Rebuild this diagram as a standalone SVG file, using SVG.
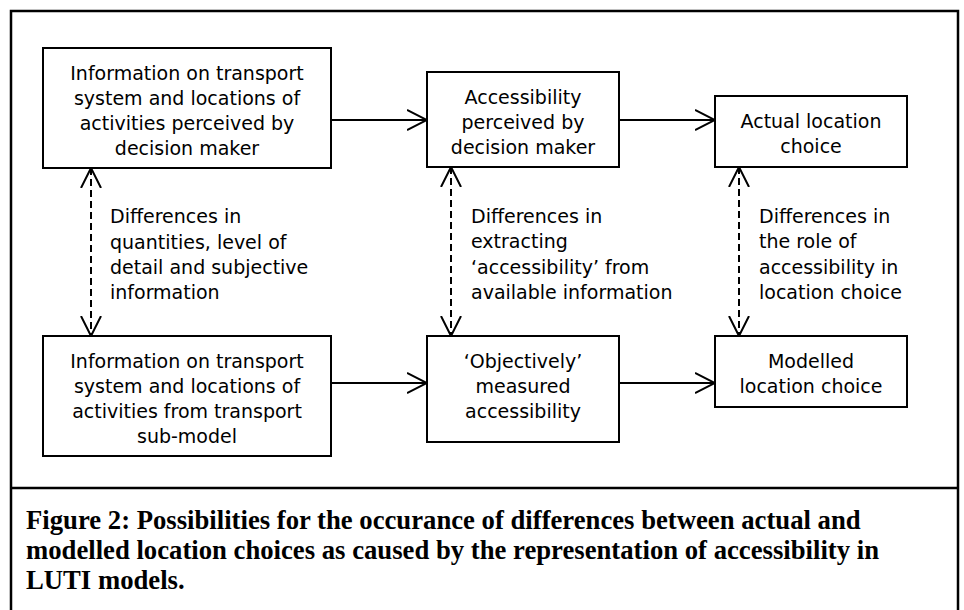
<svg xmlns="http://www.w3.org/2000/svg" width="964" height="610" viewBox="0 0 964 610">
<style>
.box{fill:#fff;stroke:#000;stroke-width:2}
.t{font-family:"DejaVu Sans",Verdana,sans-serif;font-size:19px;fill:#000}
.c{text-anchor:middle}
.conn{stroke:#000;stroke-width:2;fill:none}
.dash{stroke-dasharray:7 4}
.cap{font-family:"Liberation Serif","Times New Roman",serif;font-size:26.7px;font-weight:bold;fill:#000}
</style>
<defs>
<marker id="ah" viewBox="0 0 20 22" refX="20" refY="11" markerWidth="20" markerHeight="22" markerUnits="userSpaceOnUse" orient="auto-start-reverse">
<path d="M0,1 L20,11 L0,21" fill="none" stroke="#000" stroke-width="2" stroke-dasharray="none"/>
</marker>
</defs>
<rect x="0" y="0" width="964" height="610" fill="#fff"/>
<g id="frame">
<rect x="11" y="11" width="947" height="610" fill="none" stroke="#000" stroke-width="2.5"/>
<line x1="11" y1="488" x2="958" y2="488" stroke="#000" stroke-width="2.5"/>
</g>
<g id="connectors">
<line class="conn" x1="331" y1="120" x2="427" y2="120" marker-end="url(#ah)"/>
<line class="conn" x1="619" y1="120" x2="715" y2="120" marker-end="url(#ah)"/>
<line class="conn" x1="331" y1="383" x2="427" y2="383" marker-end="url(#ah)"/>
<line class="conn" x1="619" y1="383" x2="715" y2="383" marker-end="url(#ah)"/>
<line class="conn dash" x1="91" y1="168" x2="91" y2="336" marker-start="url(#ah)" marker-end="url(#ah)"/>
<line class="conn dash" x1="451" y1="167" x2="451" y2="336" marker-start="url(#ah)" marker-end="url(#ah)"/>
<line class="conn dash" x1="739" y1="167" x2="739" y2="336" marker-start="url(#ah)" marker-end="url(#ah)"/>
<text class="t" x="110" y="223">Differences in</text>
<text class="t" x="110" y="249">quantities, level of</text>
<text class="t" x="110" y="274">detail and subjective</text>
<text class="t" x="110" y="299">information</text>
<text class="t" x="471" y="223">Differences in</text>
<text class="t" x="471" y="248">extracting</text>
<text class="t" x="471" y="274">‘accessibility’ from</text>
<text class="t" x="471" y="299">available information</text>
<text class="t" x="759" y="223">Differences in</text>
<text class="t" x="759" y="248">the role of</text>
<text class="t" x="759" y="274">accessibility in</text>
<text class="t" x="759" y="299">location choice</text>
</g>
<g id="nodeA">
<rect class="box" x="43" y="48" width="288" height="120"/>
<text class="t c" x="187" y="80">Information on transport</text>
<text class="t c" x="187" y="105">system and locations of</text>
<text class="t c" x="187" y="130">activities perceived by</text>
<text class="t c" x="187" y="155">decision maker</text>
</g>
<g id="nodeB">
<rect class="box" x="427" y="72" width="192" height="95"/>
<text class="t c" x="523" y="104">Accessibility</text>
<text class="t c" x="523" y="129">perceived by</text>
<text class="t c" x="523" y="154">decision maker</text>
</g>
<g id="nodeC">
<rect class="box" x="715" y="96" width="192" height="71"/>
<text class="t c" x="811" y="128">Actual location</text>
<text class="t c" x="811" y="153">choice</text>
</g>
<g id="nodeD">
<rect class="box" x="43" y="336" width="288" height="120"/>
<text class="t c" x="187" y="368">Information on transport</text>
<text class="t c" x="187" y="393">system and locations of</text>
<text class="t c" x="187" y="418">activities from transport</text>
<text class="t c" x="187" y="443">sub-model</text>
</g>
<g id="nodeE">
<rect class="box" x="427" y="336" width="192" height="106"/>
<text class="t c" x="523" y="368">‘Objectively’</text>
<text class="t c" x="523" y="393">measured</text>
<text class="t c" x="523" y="418">accessibility</text>
</g>
<g id="nodeF">
<rect class="box" x="715" y="336" width="192" height="71"/>
<text class="t c" x="811" y="368">Modelled</text>
<text class="t c" x="811" y="393">location choice</text>
</g>
<g id="caption">
<text class="cap" x="26" y="529">Figure 2: Possibilities for the occurance of differences between actual and</text>
<text class="cap" x="26" y="559">modelled location choices as caused by the representation of accessibility in</text>
<text class="cap" x="26" y="589">LUTI models.</text>
</g>
</svg>
